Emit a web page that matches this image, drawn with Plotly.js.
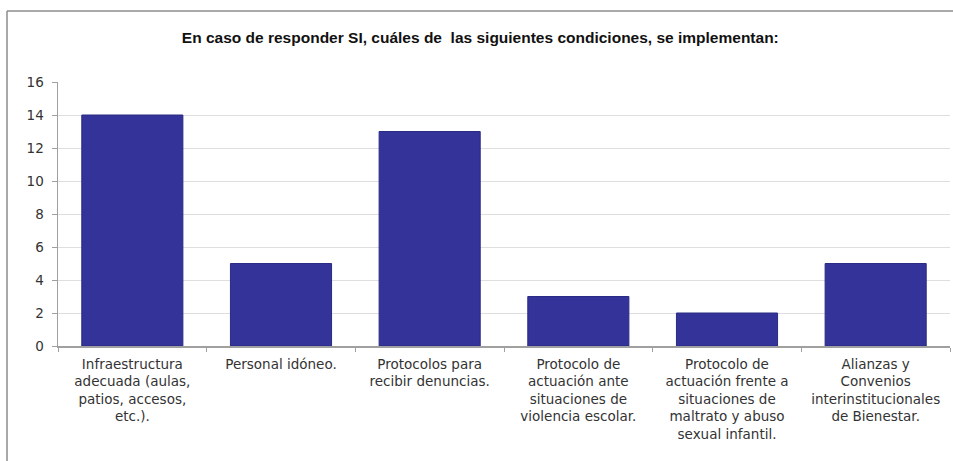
<!DOCTYPE html>
<html>
<head>
<meta charset="utf-8">
<script src="https://cdn.plot.ly/plotly-3.0.1.min.js"></script>
<style>html,body{margin:0;padding:0;background:#fff;}#chart{width:953px;height:461px;}</style>
</head>
<body>
<div id="chart"></div>
<script>
const categories = [
  "Infraestructura<br>adecuada (aulas,<br>patios, accesos,<br>etc.).",
  "Personal idóneo.",
  "Protocolos para<br>recibir denuncias.",
  "Protocolo de<br>actuación ante<br>situaciones de<br>violencia escolar.",
  "Protocolo de<br>actuación frente a<br>situaciones de<br>maltrato y abuso<br>sexual infantil.",
  "Alianzas y<br>Convenios<br>interinstitucionales<br>de Bienestar."
];
const values = [14, 5, 13, 3, 2, 5];
const yTicks = [0, 2, 4, 6, 8, 10, 12, 14, 16];
const titleText = "En caso de responder SI, cuáles de  las siguientes condiciones, se implementan:";

const L = 58, R = 950, T = 82, B = 346, W = 953, H = 461;
const px = v => (v - L) / (R - L);
const py = v => (B - v) / (B - T);

const trace = {
  type: "bar",
  x: categories,
  y: values,
  marker: { color: "#333399", line: { color: "#2b2b85", width: 1 } },
  hoverinfo: "skip"
};

const layout = {
  width: W, height: H,
  margin: { l: L, r: W - R, t: T, b: H - B },
  paper_bgcolor: "#ffffff",
  plot_bgcolor: "#ffffff",
  bargap: 0.32,
  showlegend: false,
  font: { family: "DejaVu Sans, Verdana, sans-serif", size: 13, color: "#333333" },
  title: {
    text: "<b>" + titleText + "</b>",
    font: { family: "Liberation Sans, Arial, sans-serif", size: 15.5, color: "#111111" },
    x: 0.504, xref: "container", xanchor: "center",
    y: 1 - 38 / H, yref: "container", yanchor: "middle"
  },
  xaxis: {
    type: "category",
    showgrid: false,
    showline: true, linecolor: "#a0a0a0", linewidth: 1.5,
    ticks: "outside", tickson: "boundaries", ticklen: 4, tickcolor: "#a0a0a0",
    ticklabelstandoff: 5,
    tickfont: { size: 13.5, color: "#333333" },
    automargin: false
  },
  yaxis: {
    range: [0, 16],
    tickvals: yTicks,
    showgrid: true, gridcolor: "#dedede", gridwidth: 1,
    showline: true, linecolor: "#a0a0a0", linewidth: 1.5,
    ticks: "outside", ticklen: 5, tickcolor: "#a0a0a0",
    ticklabelstandoff: 5,
    tickfont: { size: 13.5, color: "#333333" },
    zeroline: false,
    automargin: false
  },
  shapes: [
    { type: "line", xref: "paper", yref: "paper", x0: px(7), x1: px(7), y0: py(11), y1: py(461), line: { color: "#8c8c8c", width: 1.5 } },
    { type: "line", xref: "paper", yref: "paper", x0: px(7), x1: px(953), y0: py(11), y1: py(11), line: { color: "#8c8c8c", width: 1.5 } }
  ]
};

Plotly.newPlot("chart", [trace], layout, { staticPlot: true, displayModeBar: false });
</script>
</body>
</html>
